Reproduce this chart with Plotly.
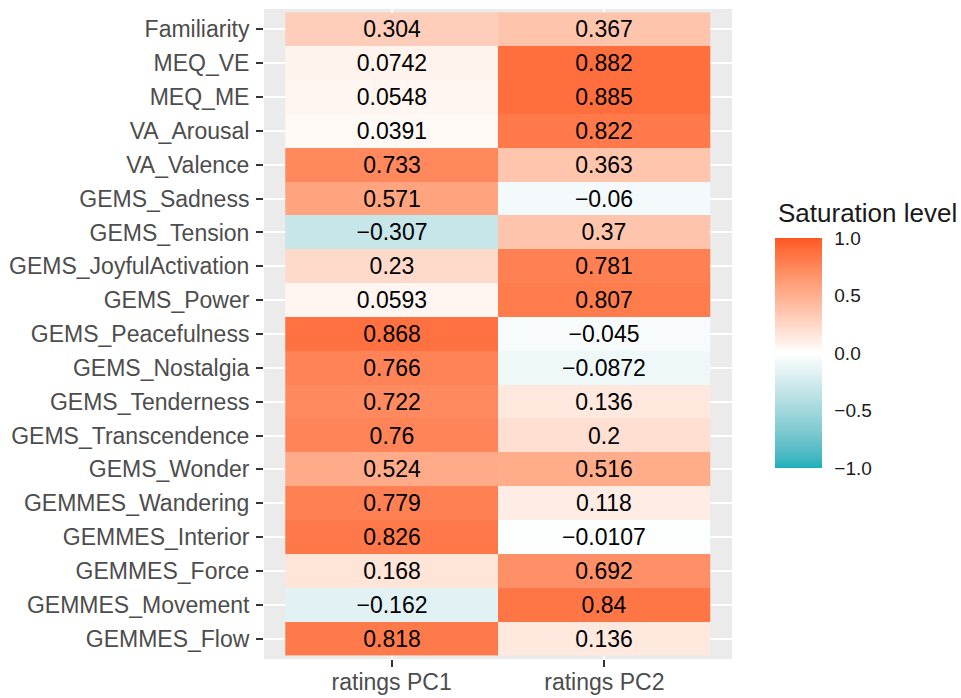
import plotly.graph_objects as go

# ---- data ----
rows = ["Familiarity", "MEQ_VE", "MEQ_ME", "VA_Arousal", "VA_Valence",
        "GEMS_Sadness", "GEMS_Tension", "GEMS_JoyfulActivation", "GEMS_Power",
        "GEMS_Peacefulness", "GEMS_Nostalgia", "GEMS_Tenderness",
        "GEMS_Transcendence", "GEMS_Wonder", "GEMMES_Wandering",
        "GEMMES_Interior", "GEMMES_Force", "GEMMES_Movement", "GEMMES_Flow"]
columns = ["ratings PC1", "ratings PC2"]
pc1 = [0.304, 0.0742, 0.0548, 0.0391, 0.733, 0.571, -0.307, 0.23, 0.0593,
       0.868, 0.766, 0.722, 0.76, 0.524, 0.779, 0.826, 0.168, -0.162, 0.818]
pc2 = [0.367, 0.882, 0.885, 0.822, 0.363, -0.06, 0.37, 0.781, 0.807,
       -0.045, -0.0872, 0.136, 0.2, 0.516, 0.118, -0.0107, 0.692, 0.84, 0.136]
legend_ticks = [-1.0, -0.5, 0.0, 0.5, 1.0]

# ---- colour scale (Lab interpolation, like ggplot gradient2) ----
LOW, MID, HIGH = "#1AB0BB", "#FFFFFF", "#FF5722"

def hex2rgb(h):
    h = h.lstrip("#")
    return [int(h[i:i + 2], 16) / 255 for i in (0, 2, 4)]

def lin(c):
    return c / 12.92 if c <= 0.04045 else ((c + 0.055) / 1.055) ** 2.4

def delin(c):
    c = max(0.0, min(1.0, c))
    return 12.92 * c if c <= 0.0031308 else 1.055 * c ** (1 / 2.4) - 0.055

WP = (0.95047, 1.0, 1.08883)

def rgb2lab(rgb):
    r, g, b = [lin(c) for c in rgb]
    x = 0.4124 * r + 0.3576 * g + 0.1805 * b
    y = 0.2126 * r + 0.7152 * g + 0.0722 * b
    z = 0.0193 * r + 0.1192 * g + 0.9505 * b
    def f(t):
        return t ** (1 / 3) if t > 0.008856 else 7.787 * t + 16 / 116
    fx, fy, fz = f(x / WP[0]), f(y / WP[1]), f(z / WP[2])
    return (116 * fy - 16, 500 * (fx - fy), 200 * (fy - fz))

def lab2rgb(lab):
    L, a, b = lab
    fy = (L + 16) / 116
    fx = fy + a / 500
    fz = fy - b / 200
    def finv(t):
        return t ** 3 if t ** 3 > 0.008856 else (t - 16 / 116) / 7.787
    x, y, z = finv(fx) * WP[0], finv(fy) * WP[1], finv(fz) * WP[2]
    r = 3.2406 * x - 1.5372 * y - 0.4986 * z
    g = -0.9689 * x + 1.8758 * y + 0.0415 * z
    bb = 0.0557 * x - 0.2040 * y + 1.0570 * z
    return [round(delin(c) * 255) for c in (r, g, bb)]

def build_scale(n=20):
    lo, mi, hi = rgb2lab(hex2rgb(LOW)), rgb2lab(hex2rgb(MID)), rgb2lab(hex2rgb(HIGH))
    out = []
    for i in range(n + 1):
        t = i / n
        if t <= 0.5:
            s = t / 0.5
            lab = [lo[k] + (mi[k] - lo[k]) * s for k in range(3)]
        else:
            s = (t - 0.5) / 0.5
            lab = [mi[k] + (hi[k] - mi[k]) * s for k in range(3)]
        r, g, b = lab2rgb(lab)
        out.append([t, f"rgb({r},{g},{b})"])
    return out

colorscale = build_scale(40)

z = [[a, b] for a, b in zip(pc1, pc2)]
text = [[str(a).replace("-", "\u2212"), str(b).replace("-", "\u2212")] for a, b in zip(pc1, pc2)]

W, H = 961, 698
L_M, R_M, T_M, B_M = 264, 229, 9, 39
plot_w = W - L_M - R_M
plot_h = H - T_M - B_M

fig = go.Figure(go.Heatmap(
    z=z, x=columns, y=rows, text=text, texttemplate="%{text}",
    textfont=dict(family="Liberation Sans", size=23, color="black"),
    colorscale=colorscale, zmin=-1, zmax=1, xgap=0, ygap=0,
    colorbar=dict(
        thickness=47, thicknessmode="pixels", len=230, lenmode="pixels",
        x=(775 - L_M) / plot_w, xanchor="left", xpad=0,
        y=1 - (353 - T_M) / plot_h, yanchor="middle", ypad=0,
        outlinewidth=0,
        tickvals=legend_ticks,
        ticktext=[f"{v:.1f}".replace("-", "\u2212") for v in legend_ticks],
        ticks="outside", ticklen=9, tickcolor="rgba(0,0,0,0)", tickwidth=1,
        tickfont=dict(family="Liberation Sans", size=19, color="#1A1A1A"),
    ),
))

fig.add_annotation(
    text="Saturation level", xref="paper", yref="paper",
    x=(776 - L_M) / plot_w, y=1 - (213 - T_M) / plot_h,
    xanchor="left", yanchor="middle", showarrow=False,
    font=dict(family="Liberation Sans", size=26, color="#1A1A1A"),
)

fig.update_layout(
    width=W, height=H,
    margin=dict(l=L_M, r=R_M, t=T_M, b=B_M, pad=0, autoexpand=False),
    paper_bgcolor="white", plot_bgcolor="#EBEBEB",
    xaxis=dict(
        range=[-0.6, 1.6], showgrid=True, gridcolor="white", gridwidth=2,
        zeroline=False, ticks="outside", ticklen=7, tickwidth=2, tickcolor="#333333",
        tickfont=dict(family="Liberation Sans", size=23, color="#4D4D4D"),
        ticklabelstandoff=-5, automargin=False,
    ),
    yaxis=dict(
        range=[len(rows) - 0.4, -0.6], showgrid=True, gridcolor="white", gridwidth=2,
        zeroline=False, ticks="outside", ticklen=7, tickwidth=2, tickcolor="#333333",
        tickfont=dict(family="Liberation Sans", size=23, color="#4D4D4D"),
        ticklabelstandoff=2, automargin=False,
    ),
)

fig.write_html("out.html", config={"displayModeBar": False},
               post_script="document.body.style.margin='0';")
